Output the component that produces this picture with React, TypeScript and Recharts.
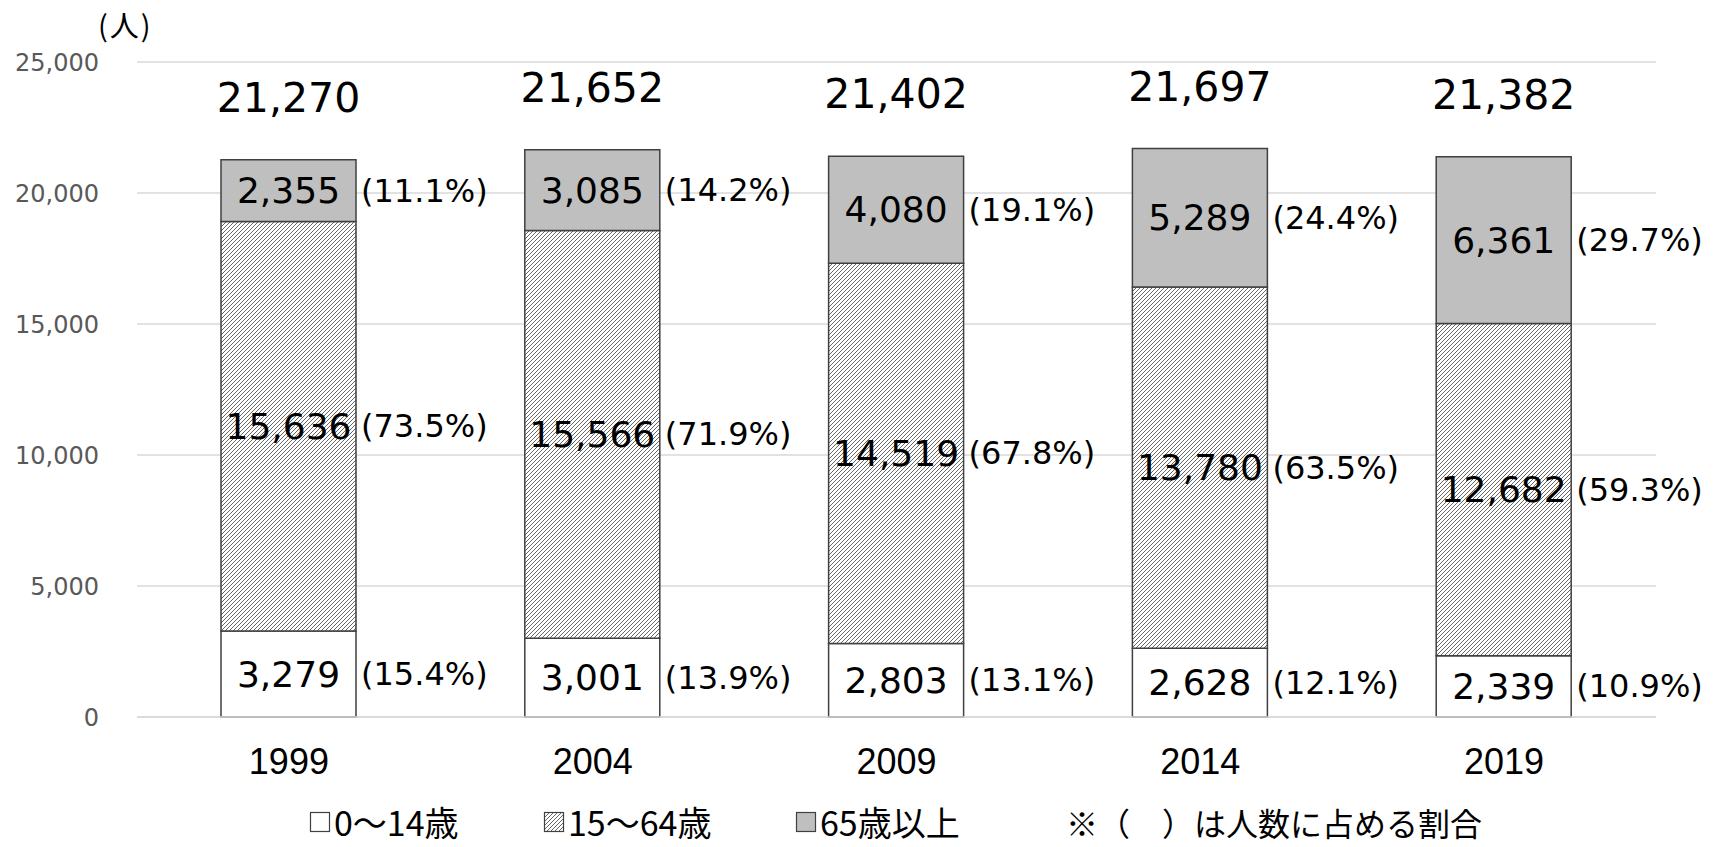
import React from 'react';
import { BarChart, Bar, XAxis, YAxis, CartesianGrid, LabelList } from 'recharts';

const years = ['1999', '2004', '2009', '2014', '2019'];
const age0to14 = [3279, 3001, 2803, 2628, 2339];
const age15to64 = [15636, 15566, 14519, 13780, 12682];
const age65plus = [2355, 3085, 4080, 5289, 6361];
const totals = [21270, 21652, 21402, 21697, 21382];
const pct0to14 = ['15.4', '13.9', '13.1', '12.1', '10.9'];
const pct15to64 = ['73.5', '71.9', '67.8', '63.5', '59.3'];
const pct65plus = ['11.1', '14.2', '19.1', '24.4', '29.7'];
const yTicks = [0, 5000, 10000, 15000, 20000, 25000];
const seriesNames = ['0〜14歳', '15〜64歳', '65歳以上'];
const noteText = '※（　）は人数に占める割合';
const unitLabel = '(人)';

const data = years.map((year, i) => ({
  year,
  a: age0to14[i],
  b: age15to64[i],
  c: age65plus[i],
  total: totals[i],
}));

const fmt = (v: number) => Number(v).toLocaleString('en-US');
const NUM_FONT = '"DejaVu Sans", Verdana, sans-serif';
const JP_FONT = '"Noto Sans CJK JP", "Noto Sans", sans-serif';

const makeSegLabel = (pcts: string[]) => (props: any) => {
  const { x, y, width, height, value, index } = props;
  const cx = Number(x) + Number(width) / 2;
  const cy = Number(y) + Number(height) / 2;
  return (
    <g>
      <text x={cx} y={cy} textAnchor="middle" dominantBaseline="central" fontSize={36} fill="#000" fontFamily={NUM_FONT}>
        {fmt(value)}
      </text>
      <text x={Number(x) + Number(width) + 5} y={cy} textAnchor="start" dominantBaseline="central" fontSize={32} fill="#000" fontFamily={NUM_FONT}>
        ({pcts[index]}%)
      </text>
    </g>
  );
};

const totalLabel = (props: any) => {
  const { x, y, width, index } = props;
  const cx = Number(x) + Number(width) / 2;
  return (
    <text x={cx} y={Number(y) - 62} textAnchor="middle" dominantBaseline="central" fontSize={41} fill="#000" fontFamily={NUM_FONT}>
      {fmt(totals[index])}
    </text>
  );
};

const Swatch = ({ fill }: { fill: string }) => (
  <svg width={22} height={22} style={{ display: 'block', marginRight: 3 }}>
    <rect x={1.5} y={1.5} width={19} height={19} fill={fill} stroke="#404040" strokeWidth={1.2} />
  </svg>
);

export default function App() {
  const fills = ['#ffffff', 'url(#hatch)', '#bfbfbf'];
  const legendLefts = [309, 543, 795];
  return (
    <div style={{ position: 'absolute', left: 0, top: 0, width: 1717, height: 847, background: '#fff', overflow: 'hidden' }}>
      <svg width={0} height={0} style={{ position: 'absolute' }}>
        <defs>
          <pattern id="hatch" patternUnits="userSpaceOnUse" width={4} height={4}>
            <rect x={0} y={0} width={4} height={4} fill="#ffffff" />
            <rect x={3} y={0} width={1} height={1} fill="#666" shapeRendering="crispEdges" />
            <rect x={2} y={1} width={1} height={1} fill="#666" shapeRendering="crispEdges" />
            <rect x={1} y={2} width={1} height={1} fill="#666" shapeRendering="crispEdges" />
            <rect x={0} y={3} width={1} height={1} fill="#666" shapeRendering="crispEdges" />
          </pattern>
        </defs>
      </svg>
      <div style={{ position: 'absolute', left: 98, top: 3, fontFamily: JP_FONT, fontSize: 29, color: '#000', letterSpacing: 2 }}>{unitLabel}</div>
      <BarChart
        width={1717}
        height={847}
        data={data}
        margin={{ top: 62, right: 61, left: 0, bottom: 60 }}
        barCategoryGap={0}
      >
        <CartesianGrid vertical={false} stroke="#d9d9d9" strokeWidth={1.5} />
        <XAxis
          dataKey="year"
          axisLine={{ stroke: '#d9d9d9', strokeWidth: 1.5 }}
          tickLine={false}
          tickSize={0}
          tickMargin={31}
          height={70}
          tick={{ fill: '#000', fontSize: 36, fontFamily: '"Liberation Sans Narrow", "Liberation Sans", Arial, sans-serif' }}
        />
        <YAxis
          domain={[0, 25000]}
          ticks={yTicks}
          width={137}
          axisLine={false}
          tickLine={false}
          tickSize={0}
          tickMargin={38}
          tickFormatter={fmt}
          tick={{ fill: '#595959', fontSize: 24, fontFamily: NUM_FONT }}
          interval={0}
        />
        <Bar dataKey="a" stackId="s" fill={fills[0]} stroke="#404040" strokeWidth={1.5} barSize={135} isAnimationActive={false}>
          <LabelList dataKey="a" content={makeSegLabel(pct0to14)} />
        </Bar>
        <Bar dataKey="b" stackId="s" fill={fills[1]} stroke="#404040" strokeWidth={1.5} barSize={135} isAnimationActive={false}>
          <LabelList dataKey="b" content={makeSegLabel(pct15to64)} />
        </Bar>
        <Bar dataKey="c" stackId="s" fill={fills[2]} stroke="#404040" strokeWidth={1.5} barSize={135} isAnimationActive={false}>
          <LabelList dataKey="c" content={makeSegLabel(pct65plus)} />
          <LabelList dataKey="total" content={totalLabel} />
        </Bar>
      </BarChart>
      {seriesNames.map((name, i) => (
        <div
          key={name}
          style={{
            position: 'absolute',
            left: legendLefts[i],
            top: 797,
            display: 'flex',
            alignItems: 'center',
            fontFamily: JP_FONT,
            fontSize: 34,
            color: '#000',
            whiteSpace: 'nowrap',
          }}
        >
          <Swatch fill={fills[i]} />
          <span>{name}</span>
        </div>
      ))}
      <div
        style={{
          position: 'absolute',
          left: 1066,
          top: 799,
          fontFamily: JP_FONT,
          fontSize: 32,
          color: '#000',
          whiteSpace: 'nowrap',
        }}
      >
        {noteText}
      </div>
    </div>
  );
}
